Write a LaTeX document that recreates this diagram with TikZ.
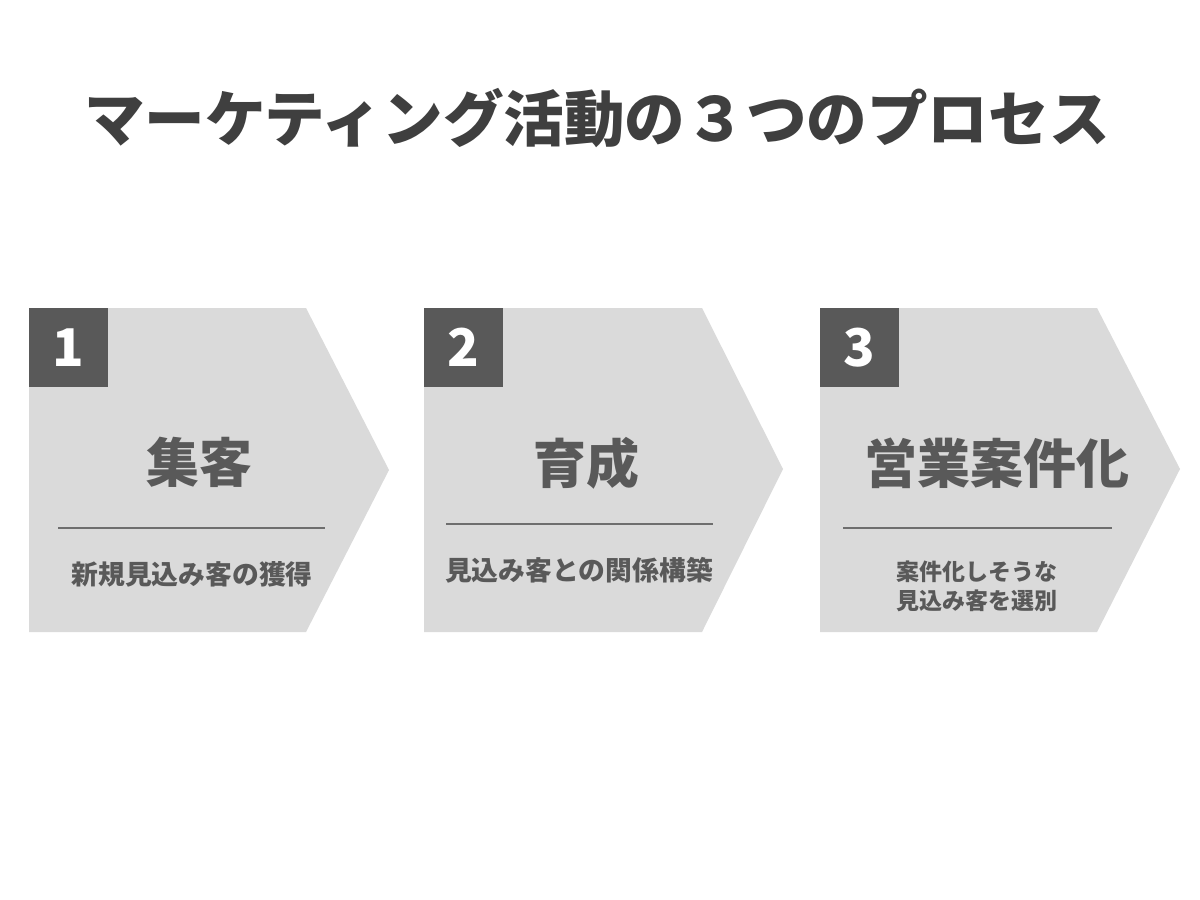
\documentclass[tikz,border=0pt]{standalone}
\usepackage{fontspec}
\setmainfont{Noto Sans CJK JP}
\definecolor{boxfill}{HTML}{DADADA}
\definecolor{dark}{HTML}{595959}
\definecolor{titlec}{HTML}{3F3F3F}
\definecolor{linec}{HTML}{6E6E6E}
\tikzset{
  chev/.style={fill=boxfill, draw=none},
  numbox/.style={fill=dark, draw=none},
  numtxt/.style={text=white, font=\bfseries\fontsize{52}{52}\selectfont, inner sep=0pt},
  headtxt/.style={text=dark, font=\bfseries\fontsize{53}{53}\selectfont, inner sep=0pt},
  subtxt/.style={text=dark, font=\bfseries\fontsize{26.8}{26.8}\selectfont, inner sep=0pt},
  subtxtb/.style={text=dark, font=\bfseries\fontsize{23}{29}\selectfont, inner sep=0pt, align=center},
  sepline/.style={draw=linec, line width=1.6pt},
  titletxt/.style={text=titlec, font=\bfseries\fontsize{60.6}{60.6}\selectfont, inner sep=0pt}
}
\begin{document}
\begin{tikzpicture}[x=1pt,y=-1pt]
\useasboundingbox (0,0) rectangle (1200,900);
\fill[white] (0,0) rectangle (1200,900);
\node[titletxt] (title) at (597,118) {マーケティング活動の３つのプロセス};
% shapes
\path[chev] (29,308) -- (306,308) -- (389,470) -- (306,632) -- (29,632) -- cycle;
\path[chev] (424,308) -- (702,308) -- (783,469) -- (702,632) -- (424,632) -- cycle;
\path[chev] (820,308) -- (1097,308) -- (1180,469) -- (1097,632) -- (820,632) -- cycle;
% number squares
\node[numbox, minimum size=79pt, inner sep=0pt] (s1) at (68.5,347.5) {};
\node[numbox, minimum size=79pt, inner sep=0pt] (s2) at (463.5,347.5) {};
\node[numbox, minimum size=79pt, inner sep=0pt] (s3) at (859.5,347.5) {};
\node[numtxt] (n1) at (s1) {1};
\node[numtxt] (n2) at (s2) {2};
\node[numtxt] (n3) at (s3) {3};
% headings
\node[headtxt] (h1) at (199.5,462) {集客};
\node[headtxt] (h2) at (586,463) {育成};
\node[headtxt] (h3) at (997,463) {営業案件化};
% lines
\coordinate (l1a) at (58,528); \coordinate (l1b) at (325,528);
\coordinate (l2a) at (446,524); \coordinate (l2b) at (713,524);
\coordinate (l3a) at (843,528); \coordinate (l3b) at (1112,528);
\draw[sepline] (l1a) -- (l1b);
\draw[sepline] (l2a) -- (l2b);
\draw[sepline] (l3a) -- (l3b);
% sub texts
\node[subtxt] (t1) at (192,574) {新規見込み客の獲得};
\node[subtxt] (t2) at (579,570) {見込み客との関係構築};
\node[subtxtb] (t3) at (977,586) {案件化しそうな\\見込み客を選別};
\end{tikzpicture}
\end{document}
